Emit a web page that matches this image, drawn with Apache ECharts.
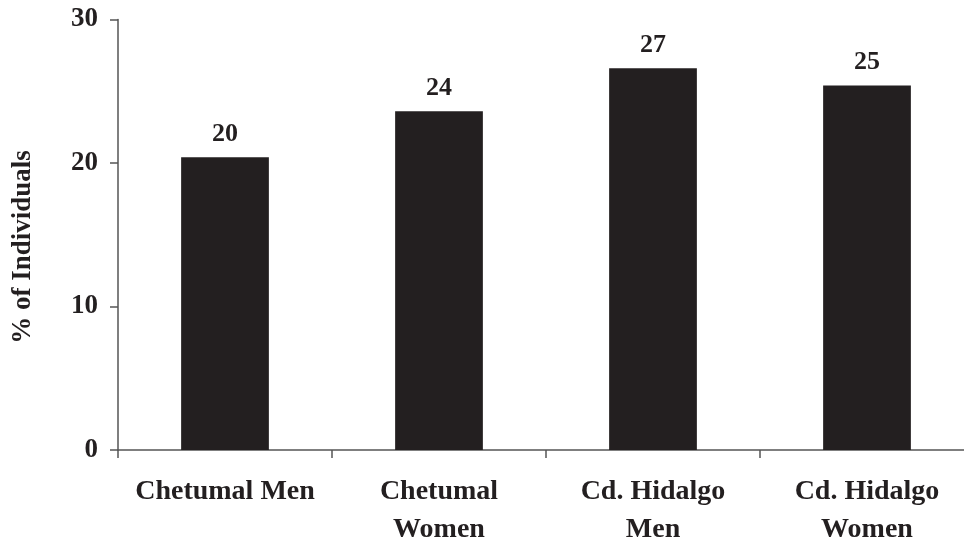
<!DOCTYPE html>
<html>
<head>
<meta charset="utf-8">
<script src="https://cdn.jsdelivr.net/npm/echarts@6/dist/echarts.min.js"></script>
<style>
html,body{margin:0;padding:0;background:#fff;}
#chart{width:964px;height:542px;}
</style>
</head>
<body>
<div id="chart"></div>
<script>
var categories = ['Chetumal Men', 'Chetumal\nWomen', 'Cd. Hidalgo\nMen', 'Cd. Hidalgo\nWomen'];
var values = [20.4, 23.6, 26.6, 25.4];
var valueLabels = ['20', '24', '27', '25'];
var yTicks = [0, 10, 20, 30];
var yTitle = '% of Individuals';

var FONT = '"Liberation Serif", "Times New Roman", serif';
var INK = '#231f20';
var AXIS = '#555555';

var chart = echarts.init(document.getElementById('chart'));
chart.setOption({
  animation: false,
  backgroundColor: '#ffffff',
  grid: { left: 118, right: -10, top: 19.5, bottom: 92, containLabel: false, outerBoundsMode: 'none' },
  xAxis: {
    type: 'category',
    data: categories,
    axisLine: { lineStyle: { color: AXIS, width: 1.5 } },
    axisTick: { show: true, length: 8, lineStyle: { color: AXIS, width: 1.5 }, alignWithLabel: false },
    axisLabel: {
      margin: 23,
      color: INK,
      fontFamily: FONT,
      fontWeight: 'bold',
      fontSize: 28,
      lineHeight: 38,
      interval: 0
    }
  },
  yAxis: {
    type: 'value',
    min: yTicks[0],
    max: yTicks[yTicks.length - 1],
    interval: 10,
    splitLine: { show: false },
    axisLine: { show: true, lineStyle: { color: AXIS, width: 1.5 } },
    axisTick: { show: true, length: 8, lineStyle: { color: AXIS, width: 1.5 } },
    axisLabel: {
      margin: 20,
      color: INK,
      fontFamily: FONT,
      fontWeight: 'bold',
      fontSize: 27
    }
  },
  graphic: [{
    type: 'text',
    x: 23,
    y: 247,
    rotation: Math.PI / 2,
    style: {
      text: yTitle,
      fill: INK,
      font: 'bold 27px ' + FONT,
      textAlign: 'center',
      textVerticalAlign: 'middle'
    }
  }],
  series: [{
    type: 'bar',
    data: values,
    barWidth: '41%',
    itemStyle: { color: INK },
    label: {
      show: true,
      position: 'top',
      distance: 10,
      color: INK,
      fontFamily: FONT,
      fontWeight: 'bold',
      fontSize: 26,
      formatter: function (p) { return valueLabels[p.dataIndex]; }
    }
  }]
});
</script>
</body>
</html>
